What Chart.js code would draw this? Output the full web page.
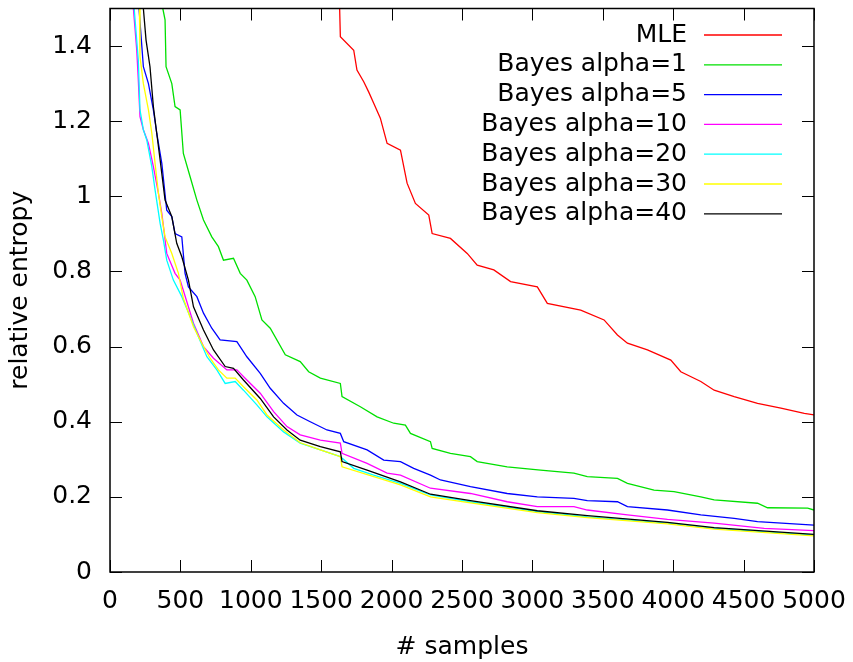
<!DOCTYPE html>
<html>
<head>
<meta charset="utf-8">
<script src="https://cdn.jsdelivr.net/npm/chart.js@4/dist/chart.umd.min.js"></script>
<style>
  body { margin: 0; background: #fff; }
  canvas { display: block; }
</style>
</head>
<body>
<canvas id="entropyChart" width="853" height="662"></canvas>
<script>
// values: [samples, relative entropy]
const mle = [[1631,1.5],[1636,1.425],[1731,1.389],[1754,1.336],[1802,1.305],[1837,1.278],[1873,1.248],[1920,1.208],[1968,1.141],[2063,1.123],[2110,1.035],[2169,0.981],[2264,0.95],[2288,0.901],[2418,0.888],[2537,0.848],[2608,0.817],[2726,0.804],[2845,0.773],[3035,0.759],[3106,0.715],[3343,0.697],[3509,0.671],[3604,0.631],[3675,0.609],[3817,0.591],[3983,0.564],[4054,0.533],[4196,0.507],[4291,0.484],[4433,0.467],[4599,0.449],[4765,0.436],[4931,0.422],[5000,0.418]];
const alpha1 = [[375,1.5],[391,1.47],[398,1.345],[439,1.3],[462,1.239],[498,1.23],[521,1.114],[569,1.052],[617,0.99],[664,0.937],[723,0.892],[770,0.866],[806,0.83],[877,0.835],[925,0.795],[972,0.777],[1031,0.733],[1079,0.671],[1138,0.649],[1245,0.578],[1351,0.56],[1411,0.533],[1494,0.516],[1636,0.502],[1648,0.467],[1778,0.44],[1897,0.413],[2015,0.396],[2098,0.391],[2134,0.369],[2276,0.347],[2288,0.329],[2418,0.316],[2560,0.307],[2608,0.294],[2821,0.28],[3058,0.271],[3295,0.263],[3390,0.254],[3604,0.249],[3675,0.236],[3864,0.218],[4006,0.214],[4196,0.2],[4291,0.192],[4599,0.183],[4670,0.171],[4955,0.17],[5000,0.165]];
const alpha5 = [[206,1.5],[237,1.345],[273,1.3],[308,1.23],[332,1.168],[368,1.088],[403,0.963],[439,0.946],[462,0.901],[510,0.892],[533,0.795],[557,0.759],[617,0.733],[664,0.689],[723,0.649],[782,0.618],[901,0.613],[972,0.573],[1067,0.529],[1138,0.489],[1233,0.449],[1328,0.418],[1422,0.4],[1541,0.378],[1636,0.369],[1660,0.347],[1826,0.325],[1944,0.298],[2063,0.294],[2157,0.276],[2276,0.258],[2347,0.245],[2560,0.227],[2821,0.209],[3035,0.2],[3295,0.196],[3390,0.19],[3604,0.187],[3675,0.174],[3959,0.165],[4196,0.152],[4433,0.143],[4599,0.134],[5000,0.125]];
const alpha10 = [[166,1.5],[190,1.389],[201,1.31],[213,1.212],[237,1.177],[273,1.141],[308,1.079],[344,1.008],[368,0.955],[403,0.848],[462,0.795],[498,0.777],[593,0.662],[664,0.6],[735,0.569],[830,0.538],[901,0.538],[972,0.511],[1067,0.476],[1162,0.427],[1257,0.387],[1351,0.365],[1494,0.351],[1636,0.343],[1648,0.316],[1826,0.289],[1968,0.263],[2063,0.258],[2276,0.223],[2560,0.209],[2821,0.187],[3035,0.174],[3295,0.174],[3390,0.165],[3675,0.152],[3959,0.14],[4291,0.13],[4646,0.116],[5000,0.11]];
const alpha20 = [[172,1.5],[178,1.47],[201,1.363],[213,1.23],[237,1.177],[261,1.15],[297,1.079],[320,1.017],[356,0.928],[379,0.884],[403,0.83],[450,0.777],[510,0.733],[569,0.68],[628,0.626],[688,0.573],[759,0.538],[818,0.502],[889,0.507],[948,0.484],[1043,0.445],[1115,0.413],[1233,0.373],[1351,0.343],[1494,0.325],[1636,0.307],[1731,0.276],[1873,0.258],[2063,0.236],[2276,0.205],[2560,0.187],[3035,0.161],[3390,0.147],[3959,0.13],[4291,0.116],[5000,0.098]];
const alpha30 = [[209,1.5],[213,1.372],[237,1.3],[273,1.23],[297,1.168],[320,1.088],[344,1.008],[368,0.946],[391,0.892],[439,0.848],[486,0.795],[521,0.728],[593,0.653],[652,0.609],[711,0.569],[770,0.538],[830,0.516],[889,0.516],[948,0.493],[1043,0.458],[1115,0.418],[1233,0.378],[1351,0.344],[1494,0.325],[1636,0.307],[1648,0.28],[1873,0.254],[2063,0.232],[2276,0.2],[2560,0.184],[3035,0.158],[3390,0.145],[3959,0.128],[4291,0.114],[5000,0.096]];
const alpha40 = [[237,1.5],[256,1.416],[284,1.345],[308,1.239],[332,1.168],[356,1.097],[391,0.99],[439,0.946],[474,0.875],[510,0.839],[557,0.777],[593,0.706],[664,0.644],[735,0.591],[818,0.547],[877,0.542],[948,0.511],[1067,0.462],[1162,0.413],[1257,0.378],[1351,0.351],[1494,0.334],[1636,0.32],[1648,0.294],[1826,0.271],[2063,0.24],[2276,0.207],[2560,0.19],[3035,0.163],[3390,0.15],[3959,0.132],[4291,0.118],[5000,0.1]];

const seriesNames = ['MLE', 'Bayes alpha=1', 'Bayes alpha=5', 'Bayes alpha=10', 'Bayes alpha=20', 'Bayes alpha=30', 'Bayes alpha=40'];
const seriesData = [mle, alpha1, alpha5, alpha10, alpha20, alpha30, alpha40];
const seriesColors = ['#ff0000', '#00e000', '#0000ff', '#ff00ff', '#00ffff', '#ffff00', '#000000'];

const xTicks = [0, 500, 1000, 1500, 2000, 2500, 3000, 3500, 4000, 4500, 5000];
const yTicks = [0, 0.2, 0.4, 0.6, 0.8, 1, 1.2, 1.4];
const yTickLabels = ['0', '0.2', '0.4', '0.6', '0.8', '1', '1.2', '1.4'];

const FONT = 'DejaVu Sans';

// gnuplot style frame with inward ticks on all four sides
const framePlugin = {
  id: 'frame',
  afterDraw(chart) {
    const { ctx, chartArea: a, scales } = chart;
    ctx.save();
    ctx.strokeStyle = '#000';
    ctx.lineWidth = 1;
    ctx.beginPath();
    xTicks.forEach(v => {
      const px = Math.round(scales.x.getPixelForValue(v)) + 0.5;
      ctx.moveTo(px, a.bottom); ctx.lineTo(px, a.bottom - 12);
      ctx.moveTo(px, a.top); ctx.lineTo(px, a.top + 12);
    });
    yTicks.forEach(v => {
      const py = Math.round(scales.y.getPixelForValue(v)) + 0.5;
      ctx.moveTo(a.left, py); ctx.lineTo(a.left + 12, py);
      ctx.moveTo(a.right, py); ctx.lineTo(a.right - 12, py);
    });
    ctx.stroke();
    ctx.lineWidth = 1.5;
    ctx.strokeRect(a.left, a.top, a.right - a.left, a.bottom - a.top);
    ctx.restore();
  }
};

// key in the top right, text right aligned with the line sample after it
const keyPlugin = {
  id: 'key',
  afterDraw(chart) {
    const { ctx } = chart;
    ctx.save();
    ctx.font = '25px "' + FONT + '"';
    ctx.textAlign = 'right';
    ctx.textBaseline = 'middle';
    chart.data.datasets.forEach((ds, i) => {
      const y = 35 + i * 29.8;
      ctx.fillStyle = '#000';
      ctx.fillText(ds.label, 687, y);
      ctx.strokeStyle = ds.borderColor;
      ctx.lineWidth = 1.3;
      ctx.beginPath();
      ctx.moveTo(704, y);
      ctx.lineTo(782, y);
      ctx.stroke();
    });
    ctx.restore();
  }
};

new Chart(document.getElementById('entropyChart'), {
  type: 'line',
  data: {
    datasets: seriesNames.map((name, i) => ({
      label: name,
      data: seriesData[i].map(p => ({ x: p[0], y: p[1] })),
      borderColor: seriesColors[i],
      borderWidth: 1.3,
      pointRadius: 0,
      fill: false,
      tension: 0,
      order: seriesNames.length - i
    }))
  },
  options: {
    responsive: false,
    animation: false,
    layout: { padding: { top: 8.5, right: 39, left: 0, bottom: 0 } },
    plugins: { legend: { display: false }, tooltip: { enabled: false } },
    scales: {
      x: {
        type: 'linear',
        min: 0,
        max: 5000,
        afterFit: s => { s.height = 90; s.paddingLeft = 0; s.paddingRight = 0; },
        afterBuildTicks: s => { s.ticks = xTicks.map(v => ({ value: v })); },
        grid: { display: false, drawTicks: false },
        border: { display: false },
        ticks: {
          color: '#000',
          padding: 14,
          maxRotation: 0,
          autoSkip: false,
          font: { family: FONT, size: 25 },
          callback: v => String(v)
        },
        title: {
          display: true,
          text: '# samples',
          color: '#000',
          padding: 0,
          font: { family: FONT, size: 25, lineHeight: 1.2 }
        }
      },
      y: {
        type: 'linear',
        min: 0,
        max: 1.5,
        afterFit: s => { s.width = 110; s.paddingTop = 0; s.paddingBottom = 0; },
        afterBuildTicks: s => { s.ticks = yTicks.map(v => ({ value: v })); },
        grid: { display: false, drawTicks: false },
        border: { display: false },
        ticks: {
          color: '#000',
          padding: 18,
          autoSkip: false,
          font: { family: FONT, size: 25 },
          callback: (v, i) => yTickLabels[i]
        },
        title: {
          display: true,
          text: 'relative entropy',
          color: '#000',
          padding: 0,
          font: { family: FONT, size: 25, lineHeight: 1.6 }
        }
      }
    }
  },
  plugins: [framePlugin, keyPlugin]
});
</script>
</body>
</html>
